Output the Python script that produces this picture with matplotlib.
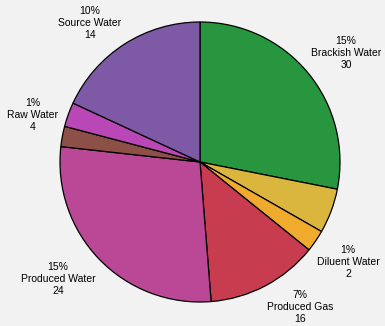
import matplotlib.pyplot as plt

# slice sizes (the printed labels don't match them)
sizes = [30, 5.5, 2.7, 13.8, 29.9, 2.5, 3.0, 19.3]
colors = ['#27963f', '#dbb63e', '#f0ab2e', '#c83c50', '#ba4896', '#8c5047', '#b947b5', '#7e59a5']
names = ['Brackish Water', '', 'Diluent Water', 'Produced Gas', 'Produced Water', 'Raw Water', '', 'Source Water']
pcts = ['15%', '', '1%', '7%', '15%', '1%', '', '10%']
counts = ['30', '', '2', '16', '24', '4', '', '14']

# where each label sits, in pie radii from the centre
label_pos = [(1.043, 0.779), None, (1.057, -0.714), (0.714, -1.036),
             (-1.014, -0.836), (-1.193, 0.336), None, (-0.786, 0.993)]

labels = []
for p, n, c in zip(pcts, names, counts):
    labels.append(p + '\n' + n + '\n' + c if n else '')

plt.rcParams['font.family'] = ['Liberation Sans', 'DejaVu Sans']

fig = plt.figure(figsize=(3.85, 3.26), dpi=100, facecolor='#f2f2f2')
ax = fig.add_axes([0, 0, 1, 1])
ax.set_facecolor('#f2f2f2')

wedges, texts = ax.pie(sizes, colors=colors, labels=labels, startangle=90, counterclock=False,
                       wedgeprops=dict(edgecolor='black', linewidth=0.9),
                       textprops=dict(fontsize=7.5, linespacing=1.3))
for t, pos in zip(texts, label_pos):
    t.set_ha('center')
    t.set_va('center')
    if pos is not None:
        t.set_position(pos)

ax.set_aspect('equal')
ax.set_xlim(-200 / 140, 185 / 140)
ax.set_ylim(-164 / 140, 162 / 140)
ax.axis('off')

fig.savefig('out.png', dpi=100, facecolor=fig.get_facecolor())
